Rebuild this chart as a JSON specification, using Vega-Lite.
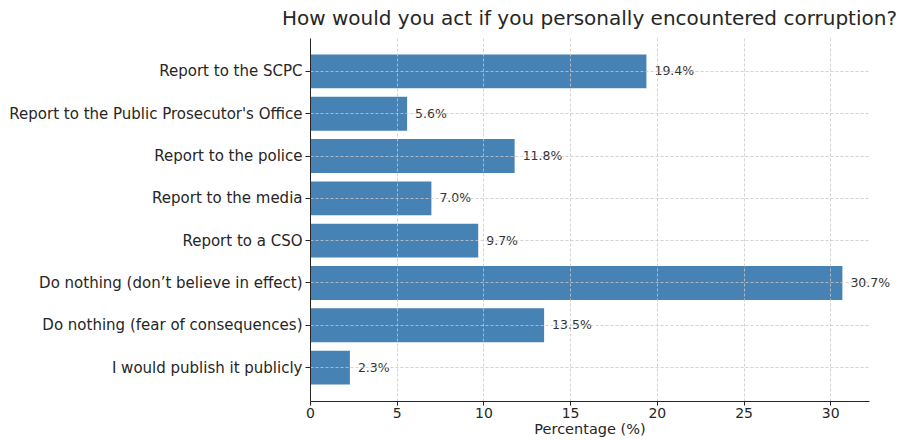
{
  "$schema": "https://vega.github.io/schema/vega-lite/v6.json",
  "width": 559,
  "height": 363,
  "autosize": "none",
  "padding": {"left": 310, "top": 38, "right": 30, "bottom": 39},
  "background": "white",
  "config": {
    "font": "DejaVu Sans",
    "view": {"stroke": null}
  },
  "title": {
    "text": "How would you act if you personally encountered corruption?",
    "font": "DejaVu Sans",
    "fontSize": 20,
    "fontWeight": "normal",
    "color": "#262626",
    "anchor": "middle",
    "offset": 9
  },
  "data": {
    "values": [
      {"option": "Report to the SCPC", "value": 19.4},
      {"option": "Report to the Public Prosecutor's Office", "value": 5.6},
      {"option": "Report to the police", "value": 11.8},
      {"option": "Report to the media", "value": 7.0},
      {"option": "Report to a CSO", "value": 9.7},
      {"option": "Do nothing (don’t believe in effect)", "value": 30.7},
      {"option": "Do nothing (fear of consequences)", "value": 13.5},
      {"option": "I would publish it publicly", "value": 2.3}
    ]
  },
  "encoding": {
    "y": {
      "field": "option",
      "type": "nominal",
      "sort": null,
      "scale": {"paddingInner": 0.2, "paddingOuter": 0.39},
      "axis": {
        "title": null,
        "zindex": 1,
        "labelFontSize": 15,
        "labelColor": "#262626",
        "labelPadding": 3,
        "tickColor": "#262626",
        "tickSize": 5,
        "domainColor": "#262626",
        "grid": true,
        "gridColor": "#c8c8c8",
        "gridDash": [3, 2],
        "gridWidth": 0.8,
        "labelLimit": 400
      }
    },
    "x": {
      "field": "value",
      "type": "quantitative",
      "scale": {"domain": [0, 32.235], "nice": false, "zero": true},
      "axis": {
        "title": "Percentage (%)",
        "titleFontSize": 14.5,
        "titleFontWeight": "normal",
        "titleColor": "#262626",
        "titlePadding": 2,
        "values": [0, 5, 10, 15, 20, 25, 30],
        "zindex": 1,
        "labelFontSize": 14,
        "labelColor": "#262626",
        "labelPadding": 1,
        "labelFlush": false,
        "tickColor": "#262626",
        "tickSize": 4,
        "domainColor": "#262626",
        "grid": true,
        "gridColor": "#c8c8c8",
        "gridDash": [3, 2],
        "gridWidth": 0.8
      }
    }
  },
  "layer": [
    {
      "mark": {"type": "bar", "color": "#4682b4"}
    },
    {
      "mark": {
        "type": "text",
        "align": "left",
        "baseline": "middle",
        "dx": 8,
        "fontSize": 12.5,
        "color": "#333333",
        "text": {"expr": "format(datum.value, '.1f') + '%'"}
      }
    }
  ]
}
